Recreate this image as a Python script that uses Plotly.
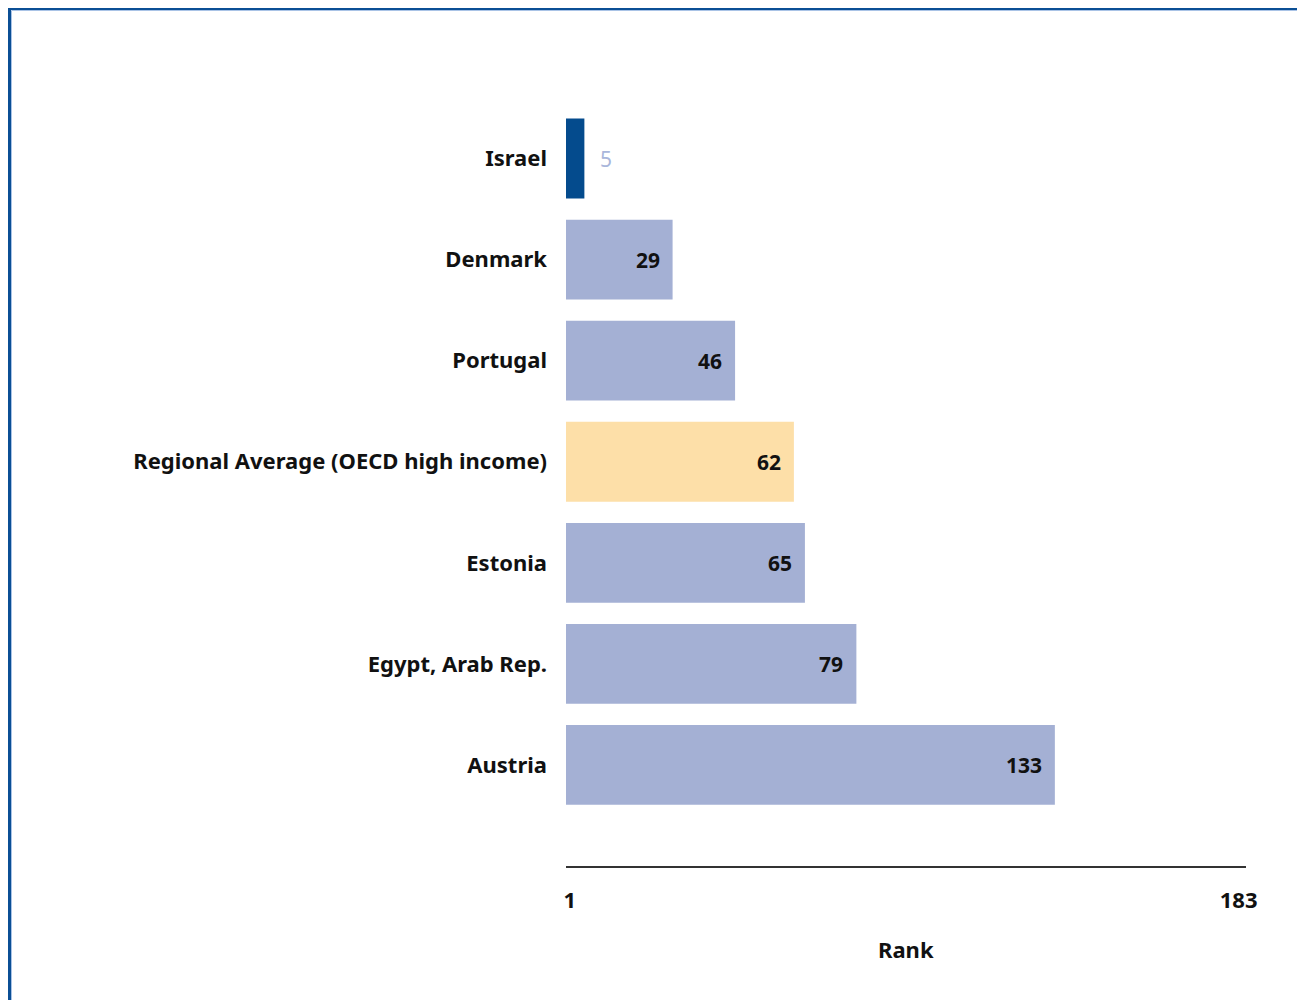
import plotly.graph_objects as go

categories = ["Israel", "Denmark", "Portugal", "Regional Average (OECD high income)",
              "Estonia", "Egypt, Arab Rep.", "Austria"]
ranks = [5, 29, 46, 62, 65, 79, 133]
bar_colors = ["#044b8d", "#a4b0d4", "#a4b0d4", "#fddfa8", "#a4b0d4", "#a4b0d4", "#a4b0d4"]
tick_vals = [1, 183]
tick_text = ["1", "183"]
x_max = 185

OFF = 8  # page offset of the figure
W, H = 1305 - OFF, 1000 - OFF
L, R, T, B = 566 - OFF, 59, 108 - OFF, 134
pw, ph = W - L - R, H - T - B

FONT = "Noto Sans"
FS = 22
FSV = 21

fig = go.Figure()
fig.add_trace(go.Bar(
    y=categories, x=ranks, orientation="h",
    marker=dict(color=bar_colors, line=dict(width=0)),
    width=0.79, hoverinfo="skip",
))

annotations = []
for c, v in zip(categories, ranks):
    if v < 10:
        annotations.append(dict(x=v, y=c, xref="x", yref="y", text=str(v), showarrow=False,
                                xanchor="left", xshift=14,
                                font=dict(family=FONT, size=FSV, color="#a9b6db")))
    else:
        annotations.append(dict(x=v, y=c, xref="x", yref="y", text="<b>%d</b>" % v, showarrow=False,
                                xanchor="right", xshift=-11,
                                font=dict(family=FONT, size=FSV, color="#111111")))


def px2x(p):
    return (p - OFF - L) / pw


def py2y(p):
    return (H - B - (p - OFF)) / ph


annotations.append(dict(x=0.5, y=py2y(949), xref="paper", yref="paper", text="<b>Rank</b>",
                        showarrow=False, xanchor="center", yanchor="middle",
                        font=dict(family=FONT, size=FS, color="#111111")))

shapes = [
    dict(type="rect", xref="paper", yref="paper",
         x0=px2x(9.5), x1=px2x(1340), y0=py2y(1040), y1=py2y(8.5),
         line=dict(color="#0b4f95", width=3), fillcolor="rgba(0,0,0,0)", layer="below"),
    dict(type="rect", xref="paper", yref="paper",
         x0=px2x(11.5), x1=px2x(1340), y0=py2y(1040), y1=py2y(10.5),
         line=dict(color="#a9c3e6", width=1), fillcolor="rgba(0,0,0,0)", layer="below"),
]

fig.update_layout(
    width=W, height=H,
    margin=dict(l=L, r=R, t=T, b=B, autoexpand=False),
    paper_bgcolor="white", plot_bgcolor="white",
    showlegend=False,
    annotations=annotations, shapes=shapes,
    xaxis=dict(range=[0, x_max], tickvals=tick_vals, ticktext=["<b>%s</b>" % t for t in tick_text],
               showgrid=False, zeroline=False, showline=True, linecolor="#333333", linewidth=2,
               ticks="", ticklabelstandoff=14,
               tickfont=dict(family=FONT, size=FS, color="#111111"), fixedrange=True),
    yaxis=dict(categoryorder="array", categoryarray=categories, range=[7.0, -0.5],
               showgrid=False, zeroline=False, showline=False, ticks="",
               ticklabelstandoff=18,
               tickvals=categories, ticktext=["<b>%s</b>" % c for c in categories],
               tickfont=dict(family=FONT, size=FS, color="#111111"), fixedrange=True),
)

fig.write_html("out.html")
